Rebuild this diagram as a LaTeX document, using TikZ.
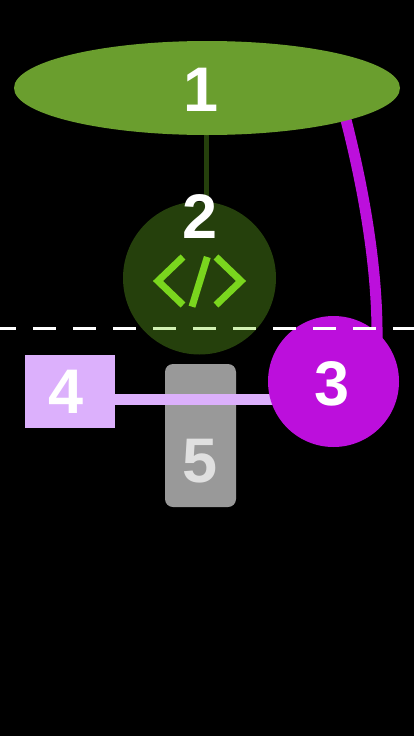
\documentclass[tikz,border=0pt]{standalone}
\usepackage{fontspec}
\setmainfont{Liberation Sans}
\usetikzlibrary{shapes.geometric}
\pgfdeclarelayer{ground}
\pgfdeclarelayer{lower}
\pgfdeclarelayer{nodesone}
\pgfdeclarelayer{mid}
\pgfdeclarelayer{top}
\pgfsetlayers{ground,lower,nodesone,mid,main,top}
\definecolor{cOne}{HTML}{6A9E2E}
\definecolor{cTwo}{HTML}{25400C}
\definecolor{cThree}{HTML}{BC0FDC}
\definecolor{cFour}{HTML}{DCB0FC}
\definecolor{cFive}{HTML}{999999}
\definecolor{cIcon}{HTML}{7AD61E}
\definecolor{cPale}{HTML}{D2F0B4}
\tikzset{
  shapebox/.style={draw=none,inner sep=0pt,outer sep=0pt},
  numlabel/.style={inner sep=0pt,font=\fontsize{63}{63}\selectfont\bfseries,text=white},
  icon/.style={draw=cIcon,line width=7pt,miter limit=10},
  divider/.style={line width=3pt,dash pattern=on 23pt off 17pt,dash phase=7pt}
}
\begin{document}
\begin{tikzpicture}[x=1pt,y=-1pt]
\begin{pgfonlayer}{ground}
\fill[black] (0,0) rectangle (414,736);
\end{pgfonlayer}
\useasboundingbox (0,0) rectangle (414,736);
\begin{pgfonlayer}{nodesone}
\node[shapebox,ellipse,fill=cOne,minimum width=386pt,minimum height=94pt] (n1) at (207,88) {};
\node[shapebox,rectangle,rounded corners=8pt,fill=cFive,minimum width=71pt,minimum height=143pt] (n5) at (200.5,435.5) {};
\end{pgfonlayer}
\node[shapebox,circle,fill=cTwo,minimum size=153pt] (n2) at (199.5,278) {};
\node[shapebox,circle,fill=cThree,minimum size=131pt] (n3) at (333.5,381.5) {};
\node[shapebox,rectangle,fill=cFour,minimum width=90pt,minimum height=73pt] (n4) at (70,391.5) {};
\begin{pgfonlayer}{lower}
\coordinate (s12) at (206,135);
\coordinate (e12) at (206,201);
\draw[cTwo,line width=5pt] (s12) -- (e12);
\coordinate (s13) at (345.5,118);
\coordinate (e13) at (377,342);
\draw[cThree,line width=11pt] (s13) .. controls (364,190) and (378,270) .. (e13);
\end{pgfonlayer}
\begin{pgfonlayer}{mid}
\draw[cFour,line width=11pt] (n4.east |- 0,399.5) -- (n3.center |- 0,399.5);
\end{pgfonlayer}
\begin{pgfonlayer}{top}
\draw[icon] (183,257) -- (158,281) -- (183,305);
\draw[icon] (207.3,257) -- (192,306.7);
\draw[icon] (216,257) -- (241,281) -- (216,305);
\coordinate (dl) at (0,328);
\coordinate (dr) at (414,328);
\draw[white,divider] (dl) -- (dr);
\begin{scope}
\clip (n2.center) circle (76.5pt);
\draw[cPale,divider] (dl) -- (dr);
\end{scope}
\node[numlabel] (l1) at (201,90) {1};
\node[numlabel] (l2) at (200.5,217) {2};
\node[numlabel] (l3) at (332.5,384) {3};
\node[numlabel] (l4) at (66.5,392) {4};
\node[numlabel,text=white!88!black] (l5) at (200.5,461) {5};
\end{pgfonlayer}
\end{tikzpicture}
\end{document}
